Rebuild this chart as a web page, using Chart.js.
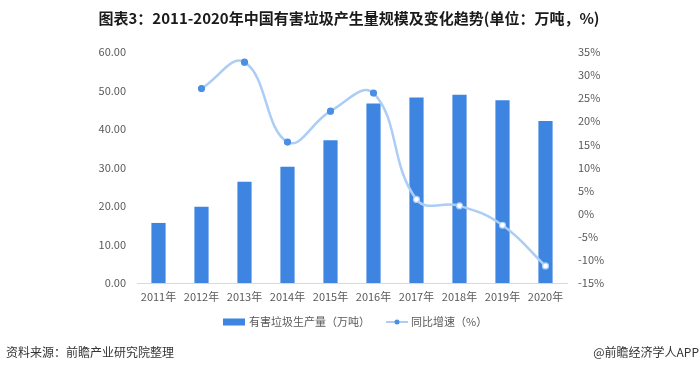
<!DOCTYPE html>
<html lang="zh">
<head>
<meta charset="utf-8">
<script src="https://cdn.jsdelivr.net/npm/chart.js@4.4.0/dist/chart.umd.min.js"></script>
<style>
  html, body { margin: 0; padding: 0; background: #fff; }
  #wrap { position: relative; width: 700px; height: 370px; }
</style>
</head>
<body>
<div id="wrap"><canvas id="myChart" width="700" height="370"></canvas></div>
<script>
const years = ['2011年', '2012年', '2013年', '2014年', '2015年', '2016年', '2017年', '2018年', '2019年', '2020年'];
const output = [15.6, 19.8, 26.3, 30.2, 37.1, 46.6, 48.2, 48.9, 47.5, 42.1];
const growth = [null, 27.1, 32.8, 15.5, 22.2, 26.1, 3.1, 1.7, -2.5, -11.3];
const leftTicks = [0, 10, 20, 30, 40, 50, 60];
const rightTicks = [-15, -10, -5, 0, 5, 10, 15, 20, 25, 30, 35];

const titleText = '图表3：2011-2020年中国有害垃圾产生量规模及变化趋势(单位：万吨，%)';
const sourceText = '资料来源：前瞻产业研究院整理';
const brandText = '@前瞻经济学人APP';

const fontFamily = '"Noto Sans CJK SC", "Noto Sans", "DejaVu Sans", sans-serif';
const barColor = '#3d85e0';
const lineColor = '#abcdf6';
const dotColor = '#4a8fe6';

// title, legend and footer drawn on the canvas
const extras = {
    id: 'extras',
    afterDraw(chart) {
        const ctx = chart.ctx;
        const lineSet = chart.data.datasets.find(d => d.type === 'line');
        const barSet = chart.data.datasets.find(d => d.type === 'bar');
        ctx.save();
        ctx.textBaseline = 'middle';

        ctx.fillStyle = '#1a1a1a';
        ctx.font = 'bold 15px ' + fontFamily;
        ctx.textAlign = 'center';
        ctx.fillText(titleText, 349, 18);

        // legend
        const ly = 322;
        ctx.font = '11px ' + fontFamily;
        ctx.textAlign = 'left';
        ctx.fillStyle = barColor;
        ctx.fillRect(223, ly - 3.5, 22, 7);
        ctx.fillStyle = '#595959';
        ctx.fillText(barSet.label, 249, ly);

        ctx.strokeStyle = lineColor;
        ctx.lineWidth = 2;
        ctx.beginPath();
        ctx.moveTo(386, ly);
        ctx.lineTo(408, ly);
        ctx.stroke();
        ctx.fillStyle = dotColor;
        ctx.beginPath();
        ctx.arc(397, ly, 2.5, 0, Math.PI * 2);
        ctx.fill();
        ctx.fillStyle = '#595959';
        ctx.fillText(lineSet.label, 411, ly);

        // footer
        ctx.fillStyle = '#333';
        ctx.font = '12px ' + fontFamily;
        ctx.fillText(sourceText, 6, 352);
        ctx.textAlign = 'right';
        ctx.fillText(brandText, 699, 352);
        ctx.restore();
    }
};

const tickFont = { family: fontFamily, size: 11 };

new Chart(document.getElementById('myChart').getContext('2d'), {
    data: {
        labels: years,
        datasets: [
            {
                type: 'line',
                label: '同比增速（%）',
                data: growth,
                yAxisID: 'y1',
                borderColor: lineColor,
                borderWidth: 2.5,
                tension: 0.42,
                pointRadius: 3,
                pointBorderWidth: 1.2,
                pointBackgroundColor: ['#fff', dotColor, dotColor, dotColor, dotColor, dotColor, '#fff', '#fff', '#fff', '#fff'],
                pointBorderColor: [dotColor, dotColor, dotColor, dotColor, dotColor, dotColor, lineColor, lineColor, lineColor, lineColor],
                order: 0
            },
            {
                type: 'bar',
                label: '有害垃圾生产量（万吨）',
                data: output,
                yAxisID: 'y',
                backgroundColor: barColor,
                categoryPercentage: 1,
                barPercentage: 0.33,
                order: 1
            }
        ]
    },
    options: {
        responsive: false,
        animation: false,
        layout: { padding: { top: 52, left: 0, right: 0, bottom: 0 } },
        plugins: {
            legend: { display: false },
            tooltip: { enabled: false }
        },
        scales: {
            x: {
                grid: { display: false, drawTicks: false },
                border: { color: '#d9d9d9' },
                ticks: { color: '#595959', font: tickFont, padding: 7, maxRotation: 0 },
                afterFit(scale) { scale.height = 87; }
            },
            y: {
                position: 'left',
                min: 0,
                max: 60,
                afterBuildTicks(scale) { scale.ticks = leftTicks.map(v => ({ value: v })); },
                grid: { display: false, drawTicks: false },
                border: { display: false },
                ticks: { color: '#595959', font: tickFont, padding: 11, callback: v => v.toFixed(2) },
                afterFit(scale) { scale.width = 137; }
            },
            y1: {
                position: 'right',
                min: -15,
                max: 35,
                afterBuildTicks(scale) { scale.ticks = rightTicks.map(v => ({ value: v })); },
                grid: { display: false, drawTicks: false },
                border: { display: false },
                ticks: { color: '#595959', font: tickFont, padding: 11, callback: v => v + '%' },
                afterFit(scale) { scale.width = 133; }
            }
        }
    },
    plugins: [extras]
});
</script>
</body>
</html>
